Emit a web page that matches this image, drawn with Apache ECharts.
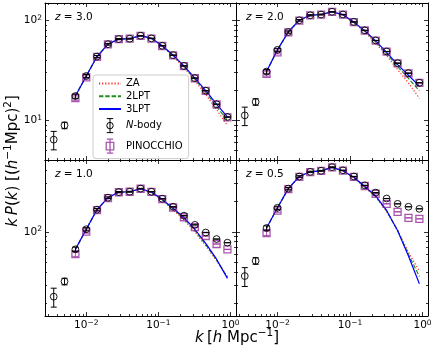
<!DOCTYPE html>
<html>
<head>
<meta charset="utf-8">
<script src="https://cdn.jsdelivr.net/npm/echarts@6/dist/echarts.min.js"></script>
<style>
  html, body { margin: 0; padding: 0; background: #fff; }
  #chart { width: 436px; height: 353px; }
</style>
</head>
<body>
<div id="chart"></div>
<script>
// k bins (h/Mpc)
var kBins = [0.00354, 0.005, 0.00707, 0.01, 0.0141, 0.02, 0.0283, 0.04, 0.0566, 0.08, 0.113, 0.16, 0.226, 0.32, 0.453, 0.64, 0.905];
// relative error bars
var relErr = [0.21, 0.075, 0.05, 0.035, 0.025, 0.018, 0.013, 0.009, 0.0065, 0.0045, 0.003, 0.0022, 0.0016, 0.0011, 0.0008, 0.0006, 0.0004];

// z = 3.0
var nbodyZ30 = [6.4, 8.9, 17.5, 27.8, 43.6, 58.0, 65.3, 65.8, 70.5, 66.3, 55.9, 45.0, 35.1, 26.5, 19.8, 14.5, 10.8];
var pinZ30   = [null, null, 16.7, 27.0, 43.2, 57.6, 65.0, 65.8, 70.3, 66.0, 55.6, 44.8, 35.0, 26.4, 19.7, 14.4, 10.7];
var zaZ30    = [null, null, 17.5, 27.8, 43.6, 58.0, 65.3, 65.8, 70.3, 66.0, 55.3, 44.0, 33.8, 25.0, 18.1, 12.8, 8.9];
var lpt2Z30  = [null, null, 17.5, 27.8, 43.6, 58.0, 65.3, 65.8, 70.5, 66.3, 55.7, 44.6, 34.6, 25.9, 19.1, 13.7, 10.0];
var lpt3Z30  = [null, null, 17.5, 27.8, 43.6, 58.0, 65.3, 65.8, 70.5, 66.3, 55.9, 45.0, 35.1, 26.5, 19.8, 14.5, 10.8];

// z = 2.0
var nbodyZ20 = [11.2, 15.3, 30.8, 50.9, 76.9, 100.7, 113, 115, 122.5, 115, 97, 79.8, 63.2, 49.0, 37.4, 29.7, 23.8];
var pinZ20   = [null, null, 29.2, 48.0, 76.0, 100, 112.5, 114.5, 122, 114.5, 96.5, 79.5, 63.0, 48.8, 37.2, 29.6, 23.7];
var zaZ20    = [null, null, 30.8, 50.9, 76.9, 100.7, 113, 115, 122, 113.5, 95.0, 77.0, 59.5, 44.5, 32.2, 23.7, 16.6];
var lpt2Z20  = [null, null, 30.8, 50.9, 76.9, 100.7, 113, 115, 122.3, 114, 95.8, 78.4, 61.3, 46.6, 34.6, 26.3, 19.8];
var lpt3Z20  = [null, null, 30.8, 50.9, 76.9, 100.7, 113, 115, 122.5, 114.5, 96.5, 79.3, 62.5, 48.0, 36.2, 28.3, 22.0];

// z = 1.0
var nbodyZ10 = [23.2, 32.7, 67.4, 106, 165, 216, 245, 247, 265, 247, 211, 176, 144, 117, 98.5, 85, 78.3];
var pinZ10   = [null, null, 60.5, 100.7, 163, 214, 244, 247, 264, 246, 209, 173, 139, 111, 91, 76, 67.4];
var zaZ10    = [null, null, 67.4, 106, 165, 216, 245, 247, 263, 243, 204, 164, 131, 100, 73, 52, 36.5];
var lpt2Z10  = [null, null, 67.4, 106, 165, 216, 245, 247, 263.5, 244, 206, 167, 135, 103, 75, 53, 35.8];
var lpt3Z10  = [null, null, 67.4, 106, 165, 216, 245, 247, 264, 245, 208, 170, 138, 106, 77, 54, 35];

// z = 0.5
var nbodyZ05 = [36.9, 52, 109, 172, 265, 348, 387, 396, 430, 400, 348, 285, 242, 212, 188, 176, 168];
var pinZ05   = [null, null, 97, 161, 262, 345, 385, 395, 428, 398, 345, 281, 236, 188, 157, 137, 134];
var zaZ05    = [null, null, 109, 172, 265, 348, 387, 396, 427, 394, 338, 273, 220, 158, 104, 63, 41.4];
var lpt2Z05  = [null, null, 109, 172, 265, 348, 387, 396, 428, 395, 340, 276, 223, 160, 103, 60, 36.6];
var lpt3Z05  = [null, null, 109, 172, 265, 348, 387, 396, 428, 396, 342, 278, 225, 162, 103, 58, 31];

// tick values
var xMajor = [0.01, 0.1, 1];
var xMinor = [0.003, 0.004, 0.005, 0.006, 0.007, 0.008, 0.009, 0.02, 0.03, 0.04, 0.05, 0.06, 0.07, 0.08, 0.09, 0.2, 0.3, 0.4, 0.5, 0.6, 0.7, 0.8, 0.9];
var yMajor = [10, 100];
var yMinor = [5, 6, 7, 8, 9, 20, 30, 40, 50, 60, 70, 80, 90, 200, 300, 400, 500];

var FONT = 'DejaVu Sans';
var PIN_COLOR = 'rgba(140, 30, 150, 0.75)';

var panels = [
  { z: '3.0', nbody: nbodyZ30, pin: pinZ30, za: zaZ30, lpt2: lpt2Z30, lpt3: lpt3Z30, yMin: 4, yMax: 150,
    grid: { left: 45, top: 3, width: 191, height: 157 }, xLab: false, yLab: true },
  { z: '2.0', nbody: nbodyZ20, pin: pinZ20, za: zaZ20, lpt2: lpt2Z20, lpt3: lpt3Z20, yMin: 4, yMax: 150,
    grid: { left: 236, top: 3, width: 192, height: 157 }, xLab: false, yLab: false },
  { z: '1.0', nbody: nbodyZ10, pin: pinZ10, za: zaZ10, lpt2: lpt2Z10, lpt3: lpt3Z10, yMin: 15, yMax: 505,
    grid: { left: 45, top: 160, width: 191, height: 156 }, xLab: true, yLab: true },
  { z: '0.5', nbody: nbodyZ05, pin: pinZ05, za: zaZ05, lpt2: lpt2Z05, lpt3: lpt3Z05, yMin: 15, yMax: 505,
    grid: { left: 236, top: 160, width: 192, height: 156 }, xLab: true, yLab: false }
];

function supLabel(v) {
  var e = Math.round(Math.log10(v));
  return '{b|10}{s|' + (e < 0 ? '\u2212' + (-e) : e) + '}';
}
var labelRich = {
  b: { fontSize: 10.5, lineHeight: 13, fontFamily: FONT, color: '#000' },
  s: { fontSize: 7.5, lineHeight: 5, verticalAlign: 'top', fontFamily: FONT, color: '#000' }
};

// main + minor axes on both sides of each panel (ticks inward on all edges)
function makeAxes(kind, gi, showLabel, min, max, major, minor) {
  var sides = kind === 'x' ? ['bottom', 'top'] : ['left', 'right'];
  var out = [];
  sides.forEach(function (pos, pi) {
    [major, minor].forEach(function (ticks, ti) {
      out.push({
        type: 'log', logBase: 10, gridIndex: gi, position: pos, min: min, max: max,
        axisLine: { show: ti === 0, onZero: false, lineStyle: { color: '#000', width: 1 } },
        axisTick: { show: true, inside: true, length: ti === 0 ? 4 : 2, customValues: ticks,
                    lineStyle: { color: '#000', width: 0.8 } },
        axisLabel: { show: showLabel && pi === 0 && ti === 0, customValues: major,
                     formatter: supLabel, rich: labelRich, margin: 3 },
        splitLine: { show: false },
        minorTick: { show: false },
        axisPointer: { show: false }
      });
    });
  });
  return out;
}

function pairs(vals) {
  var out = [];
  vals.forEach(function (v, i) { if (v != null) out.push([kBins[i], v]); });
  return out;
}
function errTriples(vals) {
  var out = [];
  vals.forEach(function (v, i) { if (v != null) out.push([kBins[i], v, v * relErr[i]]); });
  return out;
}

function errRender(marker) {
  return function (params, api) {
    var k = api.value(0), v = api.value(1), e = api.value(2);
    var c = api.coord([k, v]);
    var hi = api.coord([k, v + e]);
    var lo = api.coord([k, v - e]);
    var stroke = marker === 'circle' ? '#000' : PIN_COLOR;
    var ls = { stroke: stroke, lineWidth: 1 };
    var cap = 3;
    var kids = [
      { type: 'line', shape: { x1: c[0], y1: hi[1], x2: c[0], y2: lo[1] }, style: ls },
      { type: 'line', shape: { x1: c[0] - cap, y1: hi[1], x2: c[0] + cap, y2: hi[1] }, style: ls },
      { type: 'line', shape: { x1: c[0] - cap, y1: lo[1], x2: c[0] + cap, y2: lo[1] }, style: ls }
    ];
    if (marker === 'circle') {
      kids.push({ type: 'circle', shape: { cx: c[0], cy: c[1], r: 3.4 },
                  style: { fill: 'none', stroke: stroke, lineWidth: 0.9 } });
    } else {
      kids.push({ type: 'rect', shape: { x: c[0] - 3.5, y: c[1] - 3.5, width: 7, height: 7 },
                  style: { fill: 'none', stroke: stroke, lineWidth: 1.3 } });
    }
    return { type: 'group', children: kids };
  };
}

var grids = [], xAxes = [], yAxes = [], series = [], graphics = [];
panels.forEach(function (p, gi) {
  grids.push(p.grid);
  xAxes = xAxes.concat(makeAxes('x', gi, p.xLab, 0.00268, 1.19, xMajor, xMinor));
  yAxes = yAxes.concat(makeAxes('y', gi, p.yLab, p.yMin, p.yMax, yMajor, yMinor));
  var ax = { xAxisIndex: gi * 4, yAxisIndex: gi * 4 };
  function line(name, vals, color, type) {
    return Object.assign({
      type: 'line', name: name, data: pairs(vals), symbol: 'none', z: 2,
      lineStyle: { color: color, width: 1.2, type: type }, itemStyle: { color: color },
      emphasis: { disabled: true }
    }, ax);
  }
  series.push(line('ZA', p.za, '#ff2a2a', [1.2, 1.9]));
  series.push(line('2LPT', p.lpt2, '#1f8f1f', [4.4, 1.9]));
  series.push(line('3LPT', p.lpt3, '#0000ff', 'solid'));
  series.push(Object.assign({
    type: 'custom', name: 'PINOCCHIO', data: errTriples(p.pin), renderItem: errRender('square'),
    encode: { x: 0, y: 1 }, itemStyle: { color: PIN_COLOR }, z: 3
  }, ax));
  series.push(Object.assign({
    type: 'custom', name: 'N-body', data: errTriples(p.nbody), renderItem: errRender('circle'),
    encode: { x: 0, y: 1 }, itemStyle: { color: '#000' }, z: 4
  }, ax));
  graphics.push({
    type: 'text', x: p.grid.left + 10, y: p.grid.top + 14,
    style: { text: '{i|z} = ' + p.z, fill: '#000', fontSize: 10.5, fontFamily: FONT,
             textVerticalAlign: 'middle',
             rich: { i: { fontStyle: 'italic', fontSize: 10.5, fontFamily: FONT, fill: '#000' } } }
  });
});

var titleRich = {
  i: { fontStyle: 'italic', fontSize: 15, lineHeight: 20, fontFamily: FONT, fill: '#000' },
  n: { fontSize: 15, lineHeight: 20, fontFamily: FONT, fill: '#000' },
  s: { fontSize: 10.5, lineHeight: 9, verticalAlign: 'top', fontFamily: FONT, fill: '#000' }
};
graphics.push({
  type: 'text', x: 237, y: 338,
  style: { text: '{i|k} {n|[}{i|h}{n| Mpc}{s|\u22121}{n|]}', textAlign: 'center', textVerticalAlign: 'middle',
           rich: titleRich }
});
graphics.push({
  type: 'text', x: 13, y: 161, rotation: Math.PI / 2,
  style: { text: '{i|k\u2009P}{n|(}{i|k}{n|) [(}{i|h}{s|\u22121}{n|Mpc)}{s|2}{n|]}', textAlign: 'center',
           textVerticalAlign: 'middle', rich: titleRich }
});

var nbodyIcon = 'path://M2,0.5H8M2,13.5H8M5,0.5V13.5M8,7A3,3,0,1,1,2,7A3,3,0,1,1,8,7Z';
var pinIcon = 'path://M2,0.5H8M2,13.5H8M5,0.5V13.5M1.5,3.5H8.5V10.5H1.5Z';
var noMarker = { color: 'none', borderColor: 'none', borderWidth: 0 };

var option = {
  animation: false,
  backgroundColor: '#fff',
  grid: grids,
  xAxis: xAxes,
  yAxis: yAxes,
  series: series,
  graphic: graphics,
  legend: {
    orient: 'vertical', left: 93, top: 75, padding: [3, 6, 3, 5], itemGap: 1.5,
    itemWidth: 22, itemHeight: 14, selectedMode: false,
    backgroundColor: 'rgba(255,255,255,0.85)', borderColor: '#cccccc', borderWidth: 1, borderRadius: 3,
    textStyle: { fontFamily: FONT, fontSize: 10, color: '#000',
                 rich: { i: { fontStyle: 'italic', fontFamily: FONT, fontSize: 10, color: '#000' } } },
    formatter: function (name) { return name === 'N-body' ? '{i|N}-body' : name; },
    data: [
      { name: 'ZA', itemStyle: noMarker },
      { name: '2LPT', itemStyle: noMarker },
      { name: '3LPT', itemStyle: noMarker },
      { name: 'N-body', icon: nbodyIcon, itemStyle: { color: 'none', borderColor: '#000', borderWidth: 1 } },
      { name: 'PINOCCHIO', icon: pinIcon, itemStyle: { color: 'none', borderColor: PIN_COLOR, borderWidth: 1.3 } }
    ]
  }
};

var chart = echarts.init(document.getElementById('chart'), null, { renderer: 'canvas' });
chart.setOption(option);
</script>
</body>
</html>
